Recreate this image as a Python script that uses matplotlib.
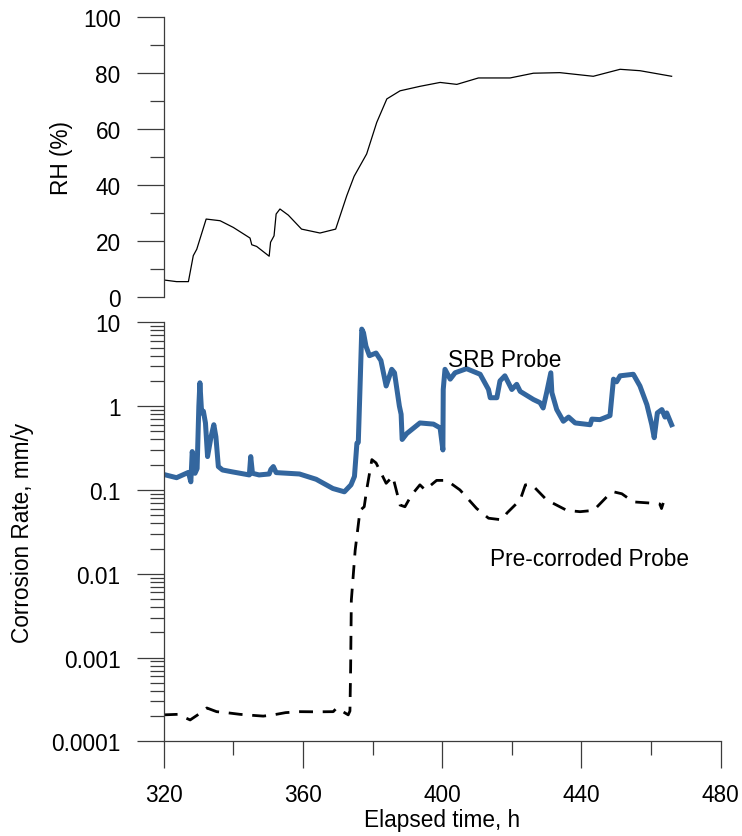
import numpy as np
import matplotlib
matplotlib.use("Agg")
import matplotlib.pyplot as plt
from matplotlib.ticker import FixedLocator, NullFormatter, LogLocator

plt.rcParams['font.family'] = ['Liberation Sans', 'DejaVu Sans']
plt.rcParams['font.size'] = 16.3

# ---- data ----
rh_time = [320, 323.7, 327.1, 328.5, 329.5, 332.2, 336.2, 340, 344.8, 345.3, 346.7,
           350.3, 350.7, 351.7, 352.3, 353.4, 355.8, 359.6, 364.9, 369.4, 372.6,
           374.7, 378.3, 381.2, 384.1, 387.9, 393.6, 399.4, 404.2, 410.4, 419.5,
           426.2, 433.8, 443.4, 451.1, 456.8, 465.9]
rh_value = [6.0, 5.4, 5.4, 14.7, 17.0, 27.8, 27.2, 24.8, 21.0, 18.6, 18.0,
            14.5, 19.5, 21.8, 29.6, 31.4, 29.2, 24.2, 22.8, 24.2, 36.2,
            43.1, 51.1, 62.4, 70.8, 73.7, 75.3, 76.7, 76.0, 78.3, 78.3,
            80.0, 80.2, 78.9, 81.4, 80.9, 78.9]

srb_time = [320, 323.7, 327.1, 327.8, 328.2, 329, 329.6, 330.1, 330.4, 330.9, 331.4,
            332, 332.6, 333.6, 334.4, 335, 335.7, 336.9, 339.8, 344.6, 345, 345.5,
            347.4, 350.3, 350.8, 351.5, 352.3, 359, 363.8, 368.6, 371.9, 373.8,
            374.8, 375.5, 375.9, 376.5, 376.9, 377.4, 378.1, 379.1, 381, 382.4,
            383.9, 385.5, 386.3, 387.7, 388.2, 388.5, 389.8, 393.6, 397.5, 399.4,
            400.2, 400.3, 400.8, 402.3, 403.7, 407, 410.9, 413.3, 413.8, 415.7,
            416.6, 418, 420, 421.4, 422.4, 426.2, 428.1, 429, 430, 431.2, 431.5,
            432.9, 434.8, 436.3, 438.2, 442.5, 443, 445.3, 448.2, 449.2, 450.1,
            451.1, 454.9, 456.8, 458.8, 460.2, 460.9, 461.8, 463.1, 464, 464.5, 465.9]
srb_rate = [0.153, 0.14, 0.162, 0.125, 0.287, 0.158, 0.18, 1.0, 1.9, 0.83, 0.87,
            0.63, 0.25, 0.43, 0.60, 0.43, 0.19, 0.173, 0.164, 0.151, 0.25, 0.158,
            0.151, 0.155, 0.176, 0.19, 0.161, 0.155, 0.134, 0.104, 0.095, 0.115,
            0.145, 0.36, 0.37, 2.3, 8.3, 7.5, 5.2, 4.0, 4.3, 3.5,
            1.74, 2.75, 2.5, 1.0, 0.8, 0.40, 0.47, 0.63, 0.61, 0.55,
            0.30, 1.58, 2.75, 2.1, 2.5, 2.8, 2.4, 1.58, 1.26, 1.26,
            2.0, 2.3, 1.58, 1.82, 1.5, 1.2, 1.1, 0.95, 1.45, 2.5, 1.45,
            0.91, 0.66, 0.74, 0.63, 0.6, 0.7, 0.69, 0.77, 2.1, 1.95,
            2.3, 2.4, 1.74, 1.04, 0.6, 0.42, 0.83, 0.91, 0.74, 0.83, 0.6]

pre_time = [320, 324, 327.6, 330, 332.4, 335.2, 338, 341.9, 345, 348.6, 351.5, 355,
            359.2, 364, 368.7, 369.7, 373, 373.5, 373.7, 373.9, 375, 376.4, 377.6,
            378.3, 379.8, 381, 383.9, 385.8, 387.9, 389.3, 391.2, 393.6, 395.1,
            398.4, 401.3, 405.1, 409.9, 413.3, 417.1, 418.6, 422.4, 423.9, 425.8,
            430, 435.8, 439.6, 443.5, 447.3, 449.2, 451.6, 454.9, 459.2, 462.5,
            463, 463.5]
pre_rate = [2.07e-4, 2.1e-4, 1.8e-4, 2.1e-4, 2.5e-4, 2.26e-4, 2.2e-4, 2.1e-4, 2.05e-4,
            2.0e-4, 2.07e-4, 2.2e-4, 2.26e-4, 2.25e-4, 2.26e-4, 2.5e-4, 2.07e-4,
            2.3e-4, 7.5e-4, 0.0048, 0.019, 0.057, 0.063, 0.1, 0.23, 0.21, 0.12,
            0.145, 0.066, 0.063, 0.087, 0.115, 0.1, 0.13, 0.13, 0.1, 0.06,
            0.046, 0.044, 0.053, 0.076, 0.115, 0.115, 0.076, 0.057, 0.055,
            0.057, 0.083, 0.095, 0.09, 0.072, 0.07, 0.068, 0.06, 0.07]

x_major = [320, 360, 400, 440, 480]
x_minor = [340, 380, 420, 460]
rh_major = [0, 20, 40, 60, 80, 100]
rh_minor = [10, 30, 50, 70, 90]
cr_major = [1e-4, 1e-3, 1e-2, 1e-1, 1, 10]
cr_labels = ['0.0001', '0.001', '0.01', '0.1', '1', '10']

axis_col = '#3c3c3c'
srb_col = '#33669e'

fig = plt.figure(figsize=(7.42, 8.37), dpi=100)
ax1 = fig.add_axes([0.2206, 0.6443, 0.7507, 0.3338])
ax2 = fig.add_axes([0.2206, 0.1131, 0.7507, 0.5006])


def style(ax):
    for s in ['top', 'right']:
        ax.spines[s].set_visible(False)
    for s in ['left', 'bottom']:
        ax.spines[s].set_color(axis_col)
        ax.spines[s].set_linewidth(0.9)
    ax.tick_params(which='major', direction='out', length=19.5, width=0.9,
                   color=axis_col, labelsize=16.3, pad=11.5)
    ax.tick_params(which='minor', direction='out', length=10, width=0.9,
                   color=axis_col)


# ---- RH panel ----
ax1.plot(rh_time, rh_value, color='black', lw=0.9)
ax1.set_xlim(320, 480)
ax1.set_ylim(0, 100)
style(ax1)
ax1.spines['bottom'].set_visible(False)
ax1.xaxis.set_visible(False)
ax1.yaxis.set_major_locator(FixedLocator(rh_major))
ax1.yaxis.set_minor_locator(FixedLocator(rh_minor))
ax1.set_ylabel('RH (%)', fontsize=16.3)
ax1.yaxis.set_label_coords(-0.162, 0.5)

# ---- corrosion rate panel ----
ax2.plot(srb_time, srb_rate, color=srb_col, lw=3.6, solid_joinstyle='round')
ax2.plot(pre_time, pre_rate, color='black', lw=2.0, linestyle=(0, (5, 3.5)))
ax2.set_yscale('log')
ax2.set_xlim(320, 480)
ax2.set_ylim(1e-4, 10)
style(ax2)
ax2.set_yticks(cr_major)
ax2.set_yticklabels(cr_labels)
ax2.yaxis.set_minor_locator(LogLocator(base=10, subs=np.arange(2, 10)))
ax2.yaxis.set_minor_formatter(NullFormatter())
ax2.xaxis.set_major_locator(FixedLocator(x_major))
ax2.xaxis.set_minor_locator(FixedLocator(x_minor))
ax2.tick_params(axis='x', which='major', pad=10.5)
ax2.set_xlabel('Elapsed time, h', fontsize=16.3)
ax2.xaxis.set_label_coords(0.5, -0.158)
ax2.set_ylabel('Corrosion Rate, mm/y', fontsize=16.3)
ax2.yaxis.set_label_coords(-0.232, 0.5)

ax2.text(401.7, 3.6, 'SRB Probe', fontsize=16.3, va='center', ha='left')
ax2.text(413.7, 0.0151, 'Pre-corroded Probe', fontsize=16.3, va='center', ha='left')

fig.savefig('out.png', dpi=100)
